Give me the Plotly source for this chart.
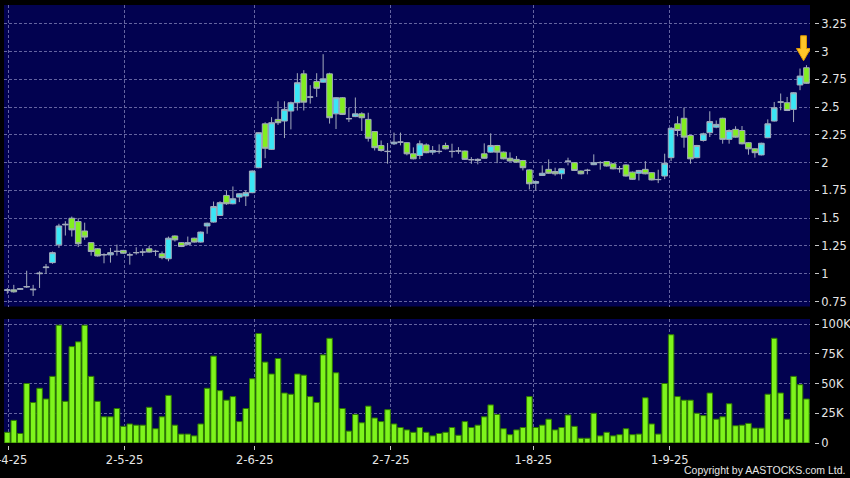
import plotly.graph_objects as go

# ---- data ----
opens = [0.85,0.855,0.86,0.88,0.855,1.0,1.055,1.10,1.26,1.44,1.50,1.47,1.385,1.28,1.225,1.17,1.17,1.20,1.21,1.17,
         1.19,1.195,1.225,1.20,1.18,1.135,1.34,1.28,1.265,1.32,1.285,1.43,1.465,1.525,1.705,1.63,1.69,1.70,1.73,1.955,
         2.35,2.12,2.39,2.375,2.465,2.54,2.80,2.59,2.73,2.725,2.80,2.44,2.585,2.395,2.415,2.44,2.39,2.28,2.155,2.10,
         2.17,2.185,2.18,2.08,2.065,2.16,2.095,2.10,2.155,2.10,2.105,2.105,2.027,2.02,2.08,2.095,2.155,2.095,2.04,2.03,
         2.02,1.935,1.815,1.885,1.94,1.92,1.90,2.012,2.0,1.925,1.93,1.982,2.0,2.01,1.99,1.945,1.98,1.915,1.905,1.94,
         1.91,1.847,1.88,2.045,2.35,2.40,2.245,2.045,2.20,2.27,2.32,2.40,2.21,2.30,2.29,2.18,2.125,2.07,2.225,2.375,
         2.545,2.54,2.48,2.70,2.855]
highs = [0.87,0.90,0.87,1.027,0.90,1.022,1.088,1.20,1.45,1.473,1.515,1.50,1.46,1.285,1.23,1.184,1.233,1.262,1.215,1.19,
         1.238,1.226,1.25,1.215,1.20,1.335,1.345,1.285,1.335,1.325,1.38,1.46,1.65,1.653,1.75,1.786,1.725,1.75,1.93,2.273,
         2.364,2.41,2.553,2.553,2.55,2.806,2.833,2.698,2.806,2.977,2.81,2.59,2.59,2.496,2.587,2.454,2.45,2.285,2.20,2.177,
         2.271,2.271,2.185,2.138,2.20,2.174,2.15,2.165,2.18,2.171,2.14,2.11,2.05,2.04,2.174,2.264,2.16,2.10,2.093,2.06,
         2.025,1.94,1.84,1.976,2.03,1.955,1.95,2.045,2.005,1.93,1.945,2.075,2.014,2.015,1.995,1.97,1.985,1.92,1.935,2.014,
         1.915,1.937,2.081,2.32,2.418,2.496,2.25,2.16,2.27,2.463,2.38,2.405,2.30,2.328,2.33,2.185,2.13,2.18,2.39,2.547,
         2.623,2.592,2.635,2.848,2.878]
lows = [0.82,0.83,0.855,0.872,0.80,0.872,0.998,1.09,1.233,1.344,1.335,1.24,1.305,1.163,1.155,1.094,1.10,1.163,1.18,1.082,
        1.172,1.16,1.19,1.16,1.13,1.112,1.29,1.24,1.255,1.28,1.28,1.36,1.46,1.52,1.62,1.625,1.645,1.61,1.725,1.95,
        2.04,2.115,2.34,2.222,2.30,2.47,2.47,2.532,2.592,2.72,2.352,2.303,2.43,2.366,2.41,2.285,2.19,2.11,2.10,1.991,
        2.159,2.156,2.066,2.03,2.032,2.085,2.072,2.081,2.12,2.045,2.08,2.025,1.99,1.985,2.035,2.09,1.996,2.03,2.01,2.0,
        1.93,1.759,1.75,1.88,1.90,1.883,1.852,1.976,1.925,1.895,1.895,1.978,1.937,1.965,1.94,1.91,1.875,1.845,1.84,1.895,
        1.84,1.816,1.852,2.014,2.237,2.135,1.991,2.04,2.19,2.231,2.31,2.171,2.171,2.225,2.165,2.072,2.045,2.065,2.22,2.37,
        2.472,2.465,2.366,2.653,2.71]
closes = [0.855,0.837,0.865,0.885,0.86,1.005,1.06,1.19,1.43,1.445,1.395,1.27,1.33,1.20,1.16,1.172,1.19,1.202,1.185,1.17,
          1.19,1.196,1.195,1.202,1.145,1.32,1.305,1.245,1.28,1.285,1.375,1.455,1.605,1.64,1.63,1.675,1.72,1.73,1.925,2.27,
          2.13,2.36,2.36,2.48,2.54,2.72,2.545,2.592,2.67,2.755,2.405,2.585,2.435,2.397,2.44,2.405,2.22,2.135,2.11,2.102,
          2.185,2.186,2.08,2.035,2.17,2.09,2.11,2.102,2.125,2.102,2.105,2.03,2.027,2.03,2.04,2.155,2.095,2.035,2.015,2.005,
          1.955,1.81,1.83,1.905,1.905,1.90,1.945,2.014,1.93,1.90,1.932,2.0,2.002,1.97,1.945,1.947,1.88,1.85,1.93,1.90,
          1.845,1.849,1.995,2.31,2.29,2.23,2.035,2.155,2.26,2.37,2.345,2.21,2.29,2.23,2.17,2.125,2.09,2.175,2.35,2.495,
          2.547,2.47,2.63,2.78,2.715]
volumes_k = [9,19,8,50,34,46,37,56,99,35,81,85,99,56,35,22,22,29,14,16,
             15,15,30,12,22,40,15,7.5,7.5,6,16,46,73,44,36,39,18,29,54,92,
             68,58,71,42,41,58,57,39,34,74,88,59,29,10,24,17,31,21,18,28,
             16,13,11,9,13,9,6,8,9,13,6.5,18,13,15,22,32,24,12,7,11,
             13,39,13,15,20,11,13,23.5,14,4,4,25,6,9,6,7,12,7,7.5,38,
             16,7.5,50,91,39,36,36,25,23,42,20,22,33,14.5,15,16.5,12.5,12.5,41,88,
             42,20,56,49,37]

date_tick_pos = [0.2, 18.2, 38.4, 59.5, 81.6, 102.8]
date_tick_text = ["2-4-25", "2-5-25", "2-6-25", "2-7-25", "1-8-25", "1-9-25"]
price_ticks = [0.75, 1.0, 1.25, 1.5, 1.75, 2.0, 2.25, 2.5, 2.75, 3.0, 3.25]
price_tick_text = ["0.75", "1", "1.25", "1.5", "1.75", "2", "2.25", "2.5", "2.75", "3", "3.25"]
vol_ticks = [0, 25000, 50000, 75000, 100000]
vol_tick_text = ["0", "25K", "50K", "75K", "100K"]
copyright_text = "Copyright by AASTOCKS.com Ltd."

# ---- figure ----
n = len(closes)
idx = list(range(n))
volumes = [v * 1000 for v in volumes_k]

NAVY = "#020250"
GRID = "#6464a0"
TXT = "#e6e6e6"
FONT = "DejaVu Sans"
FS = 11.5

fig = go.Figure()
fig.add_trace(go.Candlestick(
    x=idx, open=opens, high=highs, low=lows, close=closes,
    xaxis="x", yaxis="y",
    increasing=dict(fillcolor="#3ae6f6", line=dict(color="#a4acbc", width=1)),
    decreasing=dict(fillcolor="#82ee20", line=dict(color="#a4acbc", width=1)),
    whiskerwidth=0, hoverinfo="skip", showlegend=False,
))
fig.add_trace(go.Bar(
    x=idx, y=volumes, xaxis="x2", yaxis="y2", width=0.86,
    marker=dict(color="#7ef41c", line=dict(color="#2e7800", width=1)),
    hoverinfo="skip", showlegend=False,
))

# arrow marker above the last candle (derived from the data)
cx = idx[-1] - 0.45
tip = highs[-1] + 0.04
yh = tip + 0.11
ytop = tip + 0.225
arrow_path = (f"M {cx} {tip} L {cx-1.1} {yh} L {cx-0.45} {yh} L {cx-0.45} {ytop} "
              f"L {cx+0.45} {ytop} L {cx+0.45} {yh} L {cx+1.1} {yh} Z")
fig.add_shape(type="path", path=arrow_path, xref="x", yref="y",
              fillcolor="#ffc62a", line=dict(color="#e09a00", width=1), layer="above")

W, H = 850, 478
ml, mr, mt, mb = 4, 30, 5, 33
pw, ph = W - ml - mr, H - mt - mb
x_end = (810 - ml) / pw
y_axis_pos = (814 - ml) / pw
price_dom = [(H - mb - 306.5) / ph, 1.0]
vol_dom = [(H - mb - 443) / ph, (H - mb - 319) / ph]

common_x = dict(range=[-0.52, n - 0.45], tickvals=date_tick_pos, showgrid=True,
                gridcolor=GRID, griddash="3px,2px", gridwidth=1, zeroline=False,
                showline=False, domain=[0, x_end], automargin=False)

fig.update_layout(
    width=W, height=H,
    margin=dict(l=ml, r=mr, t=mt, b=mb, pad=0, autoexpand=False),
    paper_bgcolor="black", plot_bgcolor=NAVY,
    boxgap=0.12, boxgroupgap=0,
    font=dict(family=FONT, size=FS, color=TXT),
    xaxis=dict(**common_x, anchor="y", matches="x2", showticklabels=False, ticks="",
               rangeslider=dict(visible=False)),
    xaxis2=dict(**common_x, anchor="free", position=0, ticktext=date_tick_text,
                ticks="outside", ticklen=4, tickcolor="#c8c8c8", tickwidth=1,
                ticklabeloverflow="allow",
                tickfont=dict(family=FONT, size=FS, color=TXT)),
    yaxis=dict(domain=price_dom, range=[0.705, 3.42], side="right", anchor="free",
               position=y_axis_pos, tickvals=price_ticks, ticktext=price_tick_text,
               ticks="outside", ticklen=4, tickcolor="#c8c8c8", showgrid=True,
               gridcolor=GRID, griddash="3px,2px", zeroline=False, showline=False,
               automargin=False, tickfont=dict(family=FONT, size=FS, color=TXT)),
    yaxis2=dict(domain=vol_dom, range=[0, 104200], side="right", anchor="free",
                position=y_axis_pos, tickvals=vol_ticks, ticktext=vol_tick_text,
                ticks="outside", ticklen=4, tickcolor="#c8c8c8", showgrid=True,
                gridcolor=GRID, griddash="3px,2px", zeroline=False, showline=False,
                automargin=False, tickfont=dict(family=FONT, size=FS, color=TXT)),
    annotations=[dict(text=copyright_text, xref="paper", yref="paper",
                      x=(847 - ml) / pw, y=(H - mb - 470) / ph, xanchor="right",
                      yanchor="middle", showarrow=False,
                      font=dict(family="Liberation Sans", size=10.5, color=TXT))],
)

fig.write_html("out.html", config={"displayModeBar": False, "staticPlot": True},
               post_script="document.body.style.margin='0';document.body.style.overflow='hidden';")
